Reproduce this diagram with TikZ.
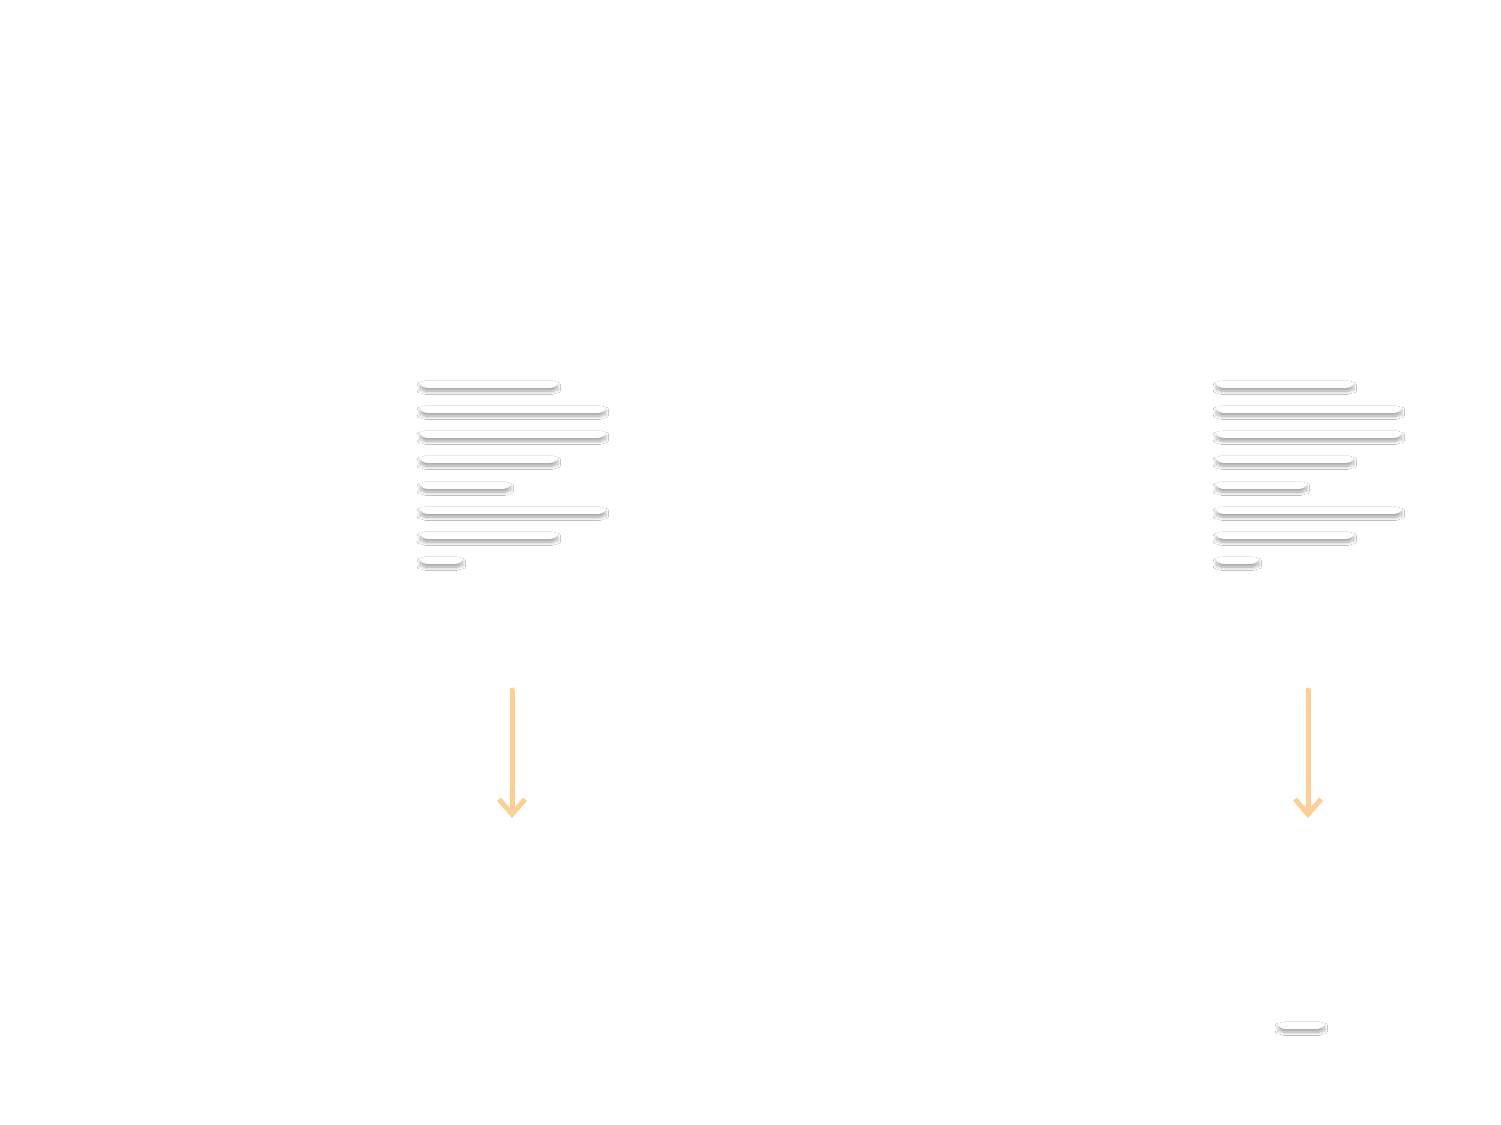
\documentclass[tikz,border=0pt]{standalone}
\usetikzlibrary{shadows.blur,arrows.meta}
\begin{document}
\begin{tikzpicture}[x=0.02cm,y=-0.02cm,
  bar/.style={fill=white, rounded corners=3.5pt, minimum height=0.15cm, inner sep=0pt, anchor=west,
    blur shadow={shadow xshift=0pt, shadow yshift=-2pt, shadow blur steps=8, shadow opacity=35, shadow blur radius=1.8pt}},
  flow/.style={draw={rgb,255:red,255;green,206;blue,148}, line width=0.1cm, line cap=round,
    -{Straight Barb[length=0.3cm,width=0.52cm,line width=0.1cm]}}]
\useasboundingbox[fill=white] (0,0) rectangle (1501,1125);
\foreach \c/\ox in {L/420, R/1216}{
  \foreach \i/\w/\y in {1/137/384, 2/185/409, 3/185/434, 4/137/459, 5/90/485, 6/185/510, 7/137/535, 8/42/560}{
    \node[bar, minimum width=\w*0.02cm] (\c\i) at (\ox,\y) {};
  }
}
\node[bar, minimum width=46*0.02cm] (Rend) at (1278,1025) {};
\coordinate (aL1) at (512,690);
\coordinate (aL2) at (512,818);
\coordinate (aR1) at (1308,690);
\coordinate (aR2) at (1308,818);
\draw[flow] (aL1) -- (aL2);
\draw[flow] (aR1) -- (aR2);
\end{tikzpicture}
\end{document}
